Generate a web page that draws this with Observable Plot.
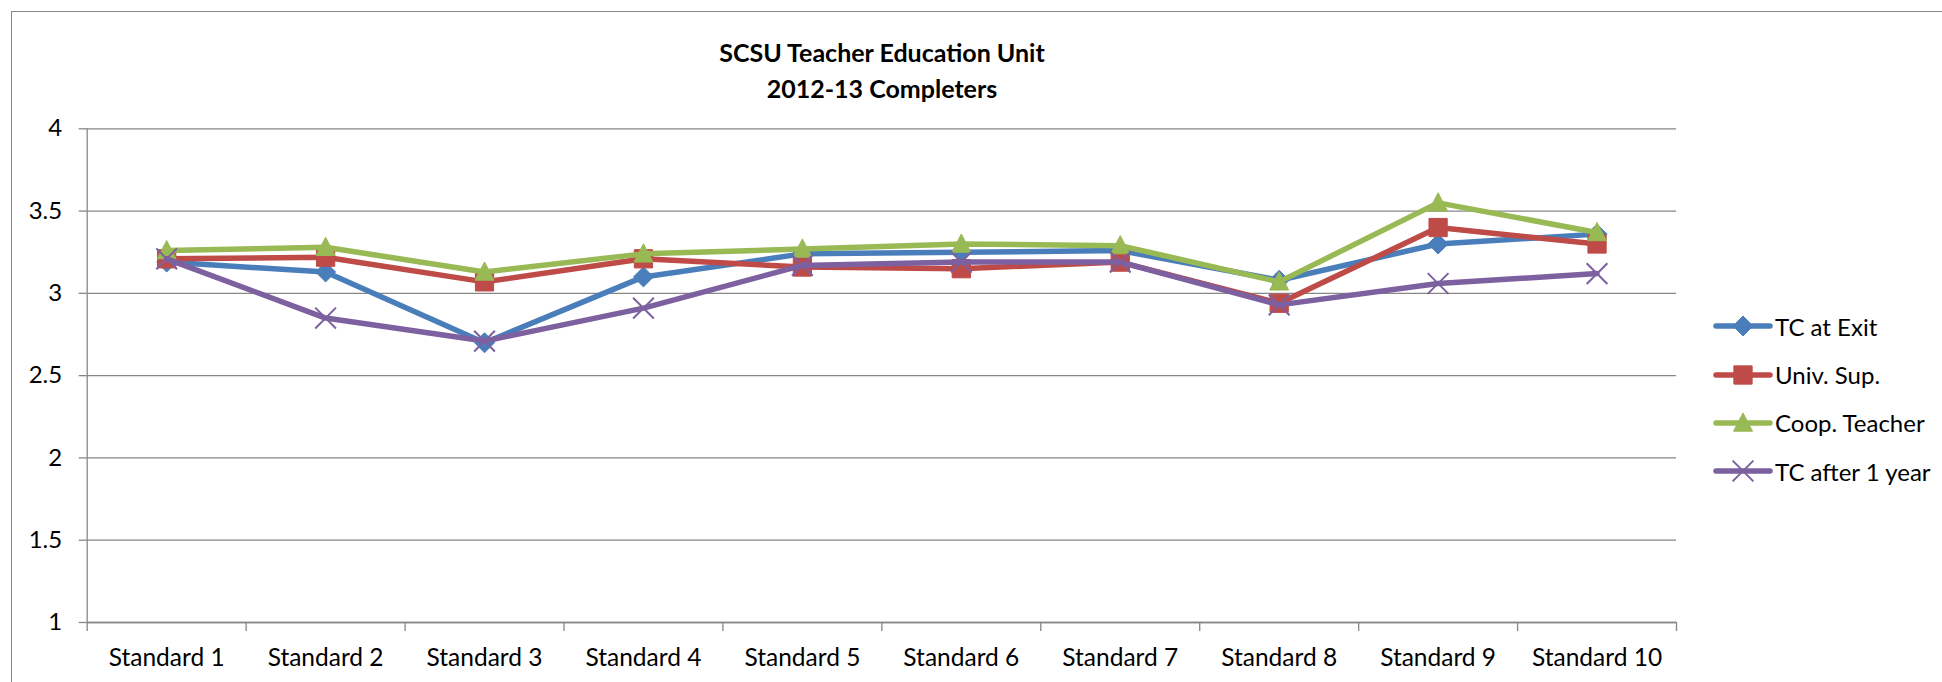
<!DOCTYPE html>
<html><head><meta charset="utf-8">
<script src="https://cdn.jsdelivr.net/npm/d3@7"></script>
<script src="https://cdn.jsdelivr.net/npm/@observablehq/plot@0.6"></script>
<style>
html,body{margin:0;padding:0;background:#fff;width:1942px;height:682px;overflow:hidden;font-family:Lato,"Open Sans",sans-serif;}
#frame{position:absolute;left:11px;top:11px;width:1940px;height:680px;border-left:1.3px solid #878787;border-top:1.3px solid #878787;}
#chart{position:absolute;left:0;top:0;}
#title{position:absolute;left:0;width:1764px;top:34px;text-align:center;font-weight:bold;font-size:25px;line-height:36px;color:#000;}
#legend{position:absolute;left:1713px;top:302px;}
.item{display:flex;align-items:center;height:48.4px;font-size:24px;color:#000;}
.item svg{margin-right:2px;}
</style></head>
<body>
<div id="frame"></div>
<div id="chart"></div>
<div id="title">SCSU Teacher Education Unit<br>2012-13 Completers</div>
<div id="legend"></div>
<script>
const categories = ["Standard 1","Standard 2","Standard 3","Standard 4","Standard 5","Standard 6","Standard 7","Standard 8","Standard 9","Standard 10"];
const seriesNames = ["TC at Exit","Univ. Sup.","Coop. Teacher","TC after 1 year"];
const tcAtExit     = [3.19,3.13,2.70,3.10,3.24,3.25,3.26,3.08,3.30,3.36];
const univSup      = [3.21,3.22,3.07,3.21,3.16,3.15,3.19,2.94,3.40,3.30];
const coopTeacher  = [3.26,3.28,3.13,3.24,3.27,3.30,3.29,3.07,3.55,3.37];
const tcAfter1Year = [3.21,2.85,2.71,2.91,3.17,3.19,3.19,2.93,3.06,3.12];
const yTicks = [1,1.5,2,2.5,3,3.5,4];
const seriesColors = ["#4A7EBB","#BE4B48","#98B954","#7D60A0"];

const triangleSym = {draw(ctx, size){const s=Math.sqrt(size); ctx.moveTo(0,-s*0.55); ctx.lineTo(s*0.52,s*0.45); ctx.lineTo(-s*0.52,s*0.45); ctx.closePath();}};
const symbols = [d3.symbolDiamond2, d3.symbolSquare, triangleSym, d3.symbolTimes];
const radii = [9, 10.3, 10.3, 9.5];

const allValues = [tcAtExit, univSup, coopTeacher, tcAfter1Year];
const seriesData = allValues.map((vals,k)=>vals.map((v,i)=>({x:i+1, value:v, series:seriesNames[k]})));

const grid = "#878787";
const marks = [
  Plot.gridY(yTicks, {stroke:grid, strokeOpacity:1, strokeWidth:1.3}),
  Plot.ruleX([0.5], {stroke:grid, strokeWidth:1.3}),
  Plot.ruleY([1], {stroke:grid, strokeWidth:1.3}),
  Plot.axisY({ticks:yTicks, tickSize:8, tickPadding:17, tickFormat:d=>String(d), fontSize:24, stroke:grid, strokeWidth:1.3, fill:"#000", label:null}),
  Plot.axisX({ticks:d3.range(0.5, categories.length+1, 1), tickSize:9, tickFormat:()=>"", stroke:grid, strokeWidth:1.3, label:null}),
  Plot.axisX({ticks:d3.range(1, categories.length+1), tickSize:0, tickPadding:26, tickFormat:i=>categories[i-1], fontSize:24.5, fill:"#000", label:null})
];
seriesData.forEach((data,k)=>{
  marks.push(Plot.line(data, {x:"x", y:"value", stroke:seriesColors[k], strokeWidth:5.5, strokeLinejoin:"round", strokeLinecap:"round"}));
  if (k===3) marks.push(Plot.dot(data, {x:"x", y:"value", symbol:symbols[k], r:radii[k], stroke:seriesColors[k], strokeWidth:2, fill:"none"}));
  else marks.push(Plot.dot(data, {x:"x", y:"value", symbol:symbols[k], r:radii[k], fill:seriesColors[k], stroke:seriesColors[k], strokeWidth:1}));
});

const chart = Plot.plot({
  width:1942, height:682,
  marginLeft:86.7, marginRight:266, marginTop:128.3, marginBottom:60,
  x:{type:"linear", domain:[0.5, categories.length+0.5]},
  y:{type:"linear", domain:[1,4]},
  style:{fontFamily:"Lato, 'Open Sans', sans-serif", background:"transparent", color:"#000", overflow:"visible"},
  marks
});
document.getElementById("chart").appendChild(chart);

const legend = d3.select("#legend");
seriesNames.forEach((name,k)=>{
  const row = legend.append("div").attr("class","item");
  const svg = row.append("svg").attr("width",60).attr("height",30);
  svg.append("line").attr("x1",3).attr("x2",57).attr("y1",15).attr("y2",15)
    .attr("stroke",seriesColors[k]).attr("stroke-width",5.5).attr("stroke-linecap","round");
  const size = Math.PI*radii[k]*radii[k];
  const p = svg.append("path").attr("transform","translate(30,15)").attr("d", d3.symbol(symbols[k], size)());
  if (k===3) p.attr("fill","none").attr("stroke",seriesColors[k]).attr("stroke-width",2);
  else p.attr("fill",seriesColors[k]).attr("stroke",seriesColors[k]);
  row.append("span").text(name);
});
</script>
</body></html>
